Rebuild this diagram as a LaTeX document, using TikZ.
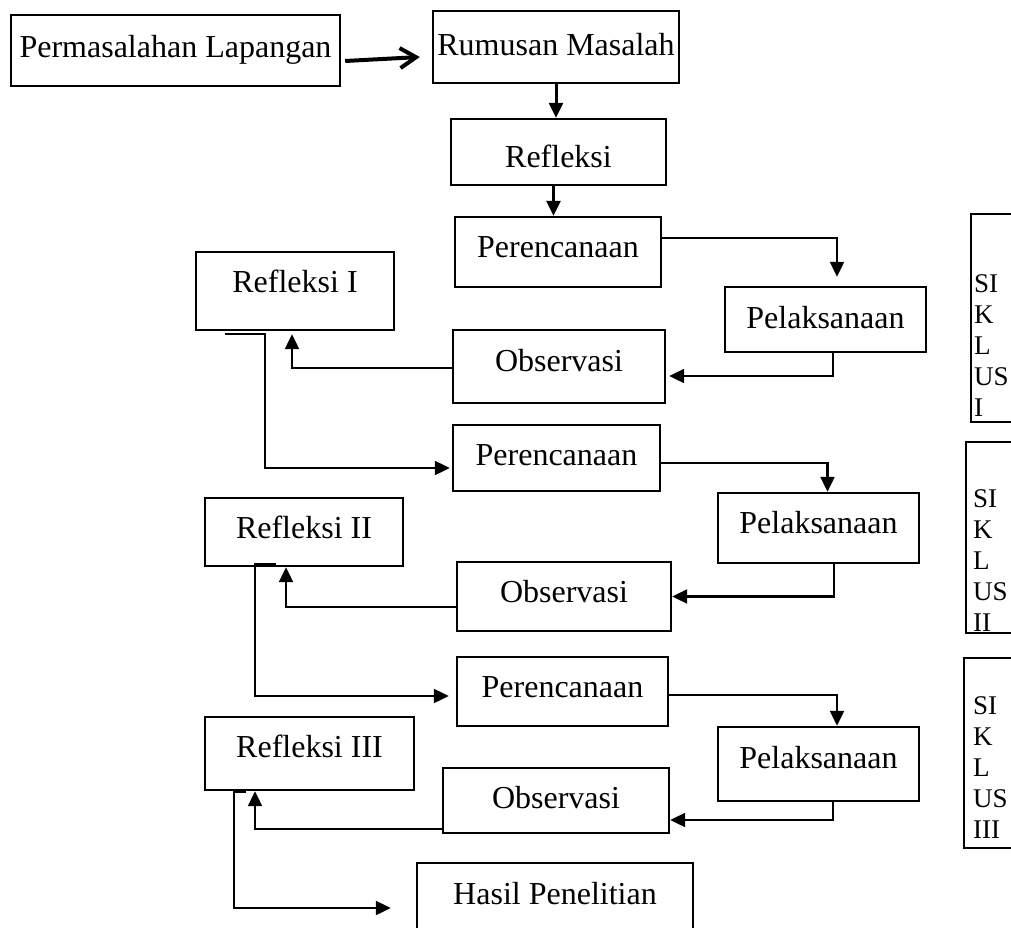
\documentclass[tikz,border=0pt]{standalone}
\usepackage{fontspec}
\setmainfont{Liberation Serif}
\usetikzlibrary{arrows.meta}

\begin{document}
\begin{tikzpicture}[x=1pt,y=-1pt,
  box/.style={draw,line width=2.4pt,inner sep=0pt,font=\fontsize{32}{38}\selectfont,text height=21pt,text depth=8pt},
  arr/.style={line width=2.2pt,-{Triangle[length=15pt,width=14pt]}},
  sik/.style={inner sep=0pt,align=left,font=\fontsize{27}{31}\selectfont}]
%\draw[help lines,step=50] (0,0) grid (1011,928);
\useasboundingbox (0,0) rectangle (1011,928);
\clip (0,0) rectangle (1011,928);

\node[box,minimum width=329pt,minimum height=71pt,text depth=6pt] (perm) at (175.5,50.5) {Permasalahan Lapangan};
\node[box,minimum width=246pt,minimum height=72pt,text depth=4pt] (rumus) at (556,47) {Rumusan Masalah};
\node[box,minimum width=215pt,minimum height=66pt,text height=31pt,text depth=0pt] (refl) at (558.5,152) {Refleksi};

% siklus I
\node[box,minimum width=206pt,minimum height=70pt,text depth=10pt] (pere1) at (558,252) {Perencanaan};
\node[box,minimum width=201pt,minimum height=65pt,text depth=4pt] (pela1) at (825.5,319.5) {Pelaksanaan};
\node[box,minimum width=212pt,minimum height=73pt,text depth=11pt] (obs1) at (559,366.5) {Observasi};
\node[box,minimum width=198pt,minimum height=78pt,text depth=18pt] (refI) at (295,291) {Refleksi I};

% siklus II
\node[box,minimum width=207pt,minimum height=66pt,text depth=7pt] (pere2) at (556.5,458) {Perencanaan};
\node[box,minimum width=201pt,minimum height=70pt,text depth=10pt] (pela2) at (818.5,528) {Pelaksanaan};
\node[box,minimum width=214pt,minimum height=69pt,text depth=9pt] (obs2) at (564,596.5) {Observasi};
\node[box,minimum width=198pt,minimum height=68pt,text depth=9pt] (refII) at (304,532) {Refleksi II};

% siklus III
\node[box,minimum width=211pt,minimum height=69pt,text depth=9pt] (pere3) at (562.5,691.5) {Perencanaan};
\node[box,minimum width=201pt,minimum height=74pt,text depth=13pt] (pela3) at (818.5,764) {Pelaksanaan};
\node[box,minimum width=226pt,minimum height=65pt,text depth=6pt] (obs3) at (556,800.5) {Observasi};
\node[box,minimum width=209pt,minimum height=73pt,text depth=13pt] (refIII) at (309.5,753.5) {Refleksi III};

\node[box,minimum width=276pt,minimum height=82pt,text depth=21pt] (hasil) at (555,904) {Hasil Penelitian};

\draw[line width=2.4pt] (971,214) rectangle (1040,422);
\node[sik,anchor=north west] (sik1) at (974,274) {SI\\K\\L\\US\\I};
\draw[line width=2.4pt] (966,442) rectangle (1040,633);
\node[sik,anchor=north west] (sik2) at (973,489) {SI\\K\\L\\US\\II};
\draw[line width=2.4pt] (964,658) rectangle (1040,848);
\node[sik,anchor=north west] (sik3) at (973,696) {SI\\K\\L\\US\\III};

\draw[line width=4pt,-{Straight Barb[length=16pt,width=20pt]}] ([xshift=4pt,yshift=-10.5pt]perm.east) -- ([xshift=-12pt,yshift=-10pt]rumus.west);
\draw[arr,line width=3pt] (rumus.south) -- (rumus.south |- refl.north);
\draw[arr,line width=3pt] ([xshift=-5pt]refl.south) -- ([xshift=-5pt]refl.south |- pere1.north);

\draw[arr] ([yshift=14pt]pere1.east) -| ([xshift=11.5pt,yshift=9pt]pela1.north);
\draw[arr] ([xshift=7.5pt]pela1.south) |- ([xshift=3pt,yshift=-9.5pt]obs1.east);
\draw[arr] ([yshift=-1.5pt]obs1.west) -| ([xshift=-3pt,yshift=-3pt]refI.south);
\draw[arr] ([xshift=-70pt,yshift=-3pt]refI.south) -- ++(40,0) |- ([xshift=-2pt,yshift=-10pt]pere2.west);

\draw[arr] ([yshift=-5pt]pere2.east) -| ([xshift=9pt]pela2.north);
\draw[arr] ([xshift=15.5pt]pela2.south) |- (obs2.east);
\draw[arr] ([yshift=-10.5pt]obs2.west) -| ([xshift=-18pt]refII.south);
\draw[arr] ([xshift=-28pt,yshift=3pt]refII.south) -- ++(-21,0) |- ([xshift=-7pt,yshift=-4.5pt]pere3.west);

\draw[arr] ([yshift=-3.5pt]pere3.east) -| ([xshift=18.5pt]pela3.north);
\draw[arr] ([xshift=14.5pt]pela3.south) |- ([yshift=-19.5pt]obs3.east);
\draw[arr] ([yshift=-28.5pt]obs3.west) -| ([xshift=-54.5pt]refIII.south);
\draw[arr] ([xshift=-63.5pt,yshift=-1pt]refIII.south) -- ++(-12,0) |- ([xshift=-25pt,yshift=-4pt]hasil.west);
\end{tikzpicture}
\end{document}
